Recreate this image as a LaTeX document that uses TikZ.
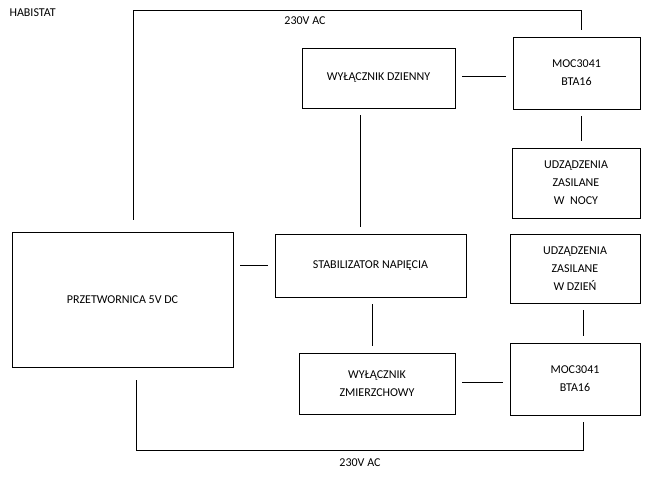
\documentclass[tikz,border=0pt]{standalone}
\usepackage{fontspec}
\setmainfont{Carlito}
\usetikzlibrary{positioning,calc}
\tikzset{box/.style={draw,thick,inner sep=0pt,align=center,font=\fontsize{12}{18}\selectfont},
         wire/.style={thick,shorten >=7pt,shorten <=7pt},
         lbl/.style={font=\fontsize{12}{14}\selectfont}}
\begin{document}
\begin{tikzpicture}[x=1pt,y=-1pt]
   \useasboundingbox[fill=white] (0,0) rectangle (667,478);

   \node[box,minimum width=221,minimum height=135] (przet) at (122.5,299.5) {PRZETWORNICA 5V DC};
   \node[box,minimum width=191,minimum height=63] (stab) at (370.5,265.5) {STABILIZATOR NAPIĘCIA};
   \node[box,minimum width=153,minimum height=60] (wdz) at (378.5,78) {WYŁĄCZNIK DZIENNY};
   \node[box,minimum width=127,minimum height=72] (moc1) at (576.5,73) {MOC3041\\BTA16};
   \node[box,minimum width=128,minimum height=70] (noc) at (576,183) {UDZĄDZENIA\\ZASILANE\\W~ NOCY};
   \node[box,minimum width=130,minimum height=69] (dzien) at (575,268.5) {UDZĄDZENIA\\ZASILANE\\W DZIEŃ};
   \node[box,minimum width=156,minimum height=61] (wzm) at (377,383.5) {WYŁĄCZNIK\\ZMIERZCHOWY};
   \node[box,minimum width=130,minimum height=72] (moc2) at (575,379) {MOC3041\\BTA16};

   \node[lbl,anchor=west] (hab) at (6,13) {HABISTAT};
   \coordinate (t1) at (133,10);
   \coordinate (t2) at (581,10);
   \coordinate (b1) at (136,450);
   \coordinate (b2) at (583,450);
   \node[lbl] (ac1) at (305,21) {230V AC};
   \node[lbl] (ac2) at (360,463) {230V AC};

   \draw[thick] ($(przet.north -| t1)+(0,-12)$) -- (t1) -- (t2) -- ($(moc1.north -| t2)+(0,-7)$);
   \draw[thick] ($(przet.south -| b1)+(0,13)$) -- (b1) -- (b2) -- ($(moc2.south -| b2)+(0,7)$);
   \draw[wire] (wdz.east |- 0,76) -- (moc1.west |- 0,76);
   \draw[wire] (moc1.south -| 581,0) -- (noc.north -| 581,0);
   \draw[wire] (wdz.south -| 360,0) -- (stab.north -| 360,0);
   \draw[wire] (przet.east |- 0,265) -- (stab.west |- 0,265);
   \draw[wire] (stab.south -| 372,0) -- (wzm.north -| 372,0);
   \draw[wire] (dzien.south -| 583,0) -- (moc2.north -| 583,0);
   \draw[wire] (wzm.east |- 0,382) -- (moc2.west |- 0,382);
\end{tikzpicture}
\end{document}
